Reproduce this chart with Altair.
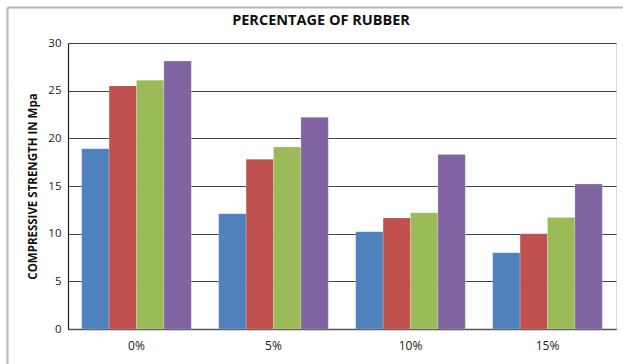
import altair as alt
import pandas as pd

categories = ["0%", "5%", "10%", "15%"]
series = ["Series 1", "Series 2", "Series 3", "Series 4"]
values_s1 = [18.9, 12.1, 10.2, 8.0]
values_s2 = [25.5, 17.8, 11.65, 10.0]
values_s3 = [26.1, 19.1, 12.2, 11.7]
values_s4 = [28.1, 22.2, 18.3, 15.2]
colors = ["#4F81BD", "#C0504D", "#9BBB59", "#8064A2"]

rows = []
for s, vals in zip(series, [values_s1, values_s2, values_s3, values_s4]):
    for c, v in zip(categories, vals):
        rows.append({"cat": c, "series": s, "value": v})
df = pd.DataFrame(rows)

FONT = "Open Sans"

bars = alt.Chart(df).mark_bar(stroke="#ffffff", strokeWidth=0.4, strokeOpacity=0.5).encode(
    x=alt.X("cat:N", sort=categories,
            scale=alt.Scale(paddingInner=0.2, paddingOuter=0.1),
            axis=alt.Axis(title=None, labelAngle=0, ticks=False, labelPadding=11,
                          labelFontSize=12, labelColor="#222", labelFont=FONT,
                          domainColor="#555", domainWidth=1.5)),
    xOffset=alt.XOffset("series:N", sort=series),
    y=alt.Y("value:Q",
            scale=alt.Scale(domain=[0, 30], nice=False),
            axis=alt.Axis(title="COMPRESSIVE STRENGTH IN Mpa", values=[0, 5, 10, 15, 20, 25, 30],
                          ticks=False, labelPadding=7, labelFontSize=11.5, labelColor="#222",
                          labelFont=FONT, titleFont=FONT, titleFontSize=11.5, titleFontWeight="bold",
                          titleColor="#111", titlePadding=9,
                          grid=True, gridColor="#444", gridWidth=1,
                          domainColor="#222", domainWidth=1.2)),
    color=alt.Color("series:N", sort=series,
                    scale=alt.Scale(domain=series, range=colors), legend=None),
)

frame_left = alt.Chart(pd.DataFrame({"a": [0]})).mark_rule(color="#b5b5b5", strokeWidth=2).encode(
    x=alt.value(-60.5), y=alt.value(-35.5), y2=alt.value(330))
frame_top = alt.Chart(pd.DataFrame({"a": [0]})).mark_rule(color="#b5b5b5", strokeWidth=2).encode(
    x=alt.value(-60.5), x2=alt.value(560), y=alt.value(-35.5))

chart = alt.layer(frame_left, frame_top, bars).properties(
    width=548, height=286,
    title=alt.TitleParams("PERCENTAGE OF RUBBER", font=FONT, fontSize=14.5, fontWeight="bold",
                          color="#111", anchor="middle", dx=-21, offset=-22),
    autosize=alt.AutoSizeParams(type="none"),
    padding={"left": 68, "top": 43, "right": 7, "bottom": 35},
).configure_view(stroke=None).configure(background="white")

chart.save("out.html", embed_options={"renderer": "svg", "actions": False})
